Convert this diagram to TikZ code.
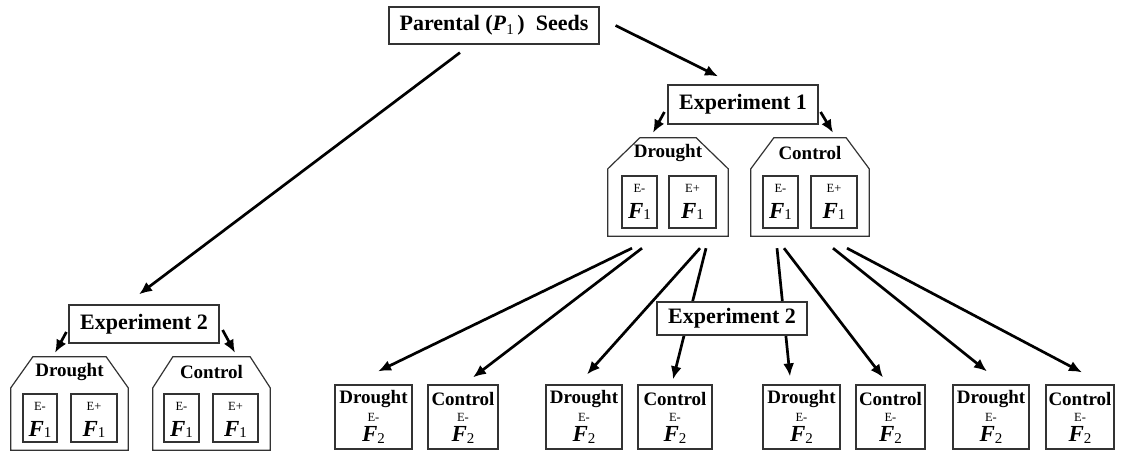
\documentclass[tikz,border=0pt]{standalone}
\usepackage{fontspec}
\setmainfont{Liberation Serif}
\usetikzlibrary{arrows.meta,positioning,calc}

\newcommand{\subsc}[1]{\raisebox{-0.35ex}{\fontsize{15}{15}\selectfont\mdseries\upshape #1}}
\newcommand{\gen}[1]{{\fontsize{23}{23}\selectfont\bfseries\itshape F}\subsc{#1}}

\tikzset{
  box/.style={draw=black!80, line width=1.2pt, inner sep=0pt, fill=white},
  exbox/.style={box, font=\fontsize{22}{22}\selectfont\bfseries, minimum width=150pt},
  grp/.style={inner sep=0pt},
  grplabel/.style={font=\fontsize{19}{19}\selectfont\bfseries, inner sep=0pt},
  small/.style={font=\fontsize{12.5}{12.5}\selectfont, inner sep=0pt},
  genbox/.style={box},
  arr/.style={-{Latex[length=13pt,width=11pt]}, line width=2.7pt},
}

% outer group with cut top corners: name, centre, width, height, chamfer, label
\newcommand{\group}[6]{%
  \node[grp, minimum width=#3pt, minimum height=#4pt] (#1) at (#2) {};
  \draw[box, fill=none] (#1.south west) -- ($(#1.north west)+(0,31)$)
    -- ($(#1.north west)+(#5,0)$) -- ($(#1.north east)+(-#5,0)$)
    -- ($(#1.north east)+(0,31)$) -- (#1.south east) -- cycle;
  \node[grplabel] (#1-lab) at ([yshift=-15pt]#1.north) {#6};
}
% F1 cell: name, centre, width, height, sign
\newcommand{\fcell}[5]{%
  \node[genbox, minimum width=#3pt, minimum height=#4pt] (#1) at (#2) {};
  \node[small] (#1-e) at ([yshift=-13pt]#1.north) {E#5};
  \node[inner sep=0pt] (#1-f) at ([yshift=-36pt]#1.north) {\gen{1}};
}
% F2 cell: name, centre, width, treatment
\newcommand{\fftwo}[4]{%
  \node[genbox, minimum width=#3pt, minimum height=64pt] (#1) at (#2) {};
  \node[grplabel] (#1-lab) at ([yshift=18pt]#1.center) {#4};
  \node[small] (#1-e) at (#1.center) {E-};
  \node[inner sep=0pt] (#1-f) at ([yshift=-18pt]#1.center) {\gen{2}};
}

\begin{document}
\begin{tikzpicture}[x=1pt, y=-1pt]
  \useasboundingbox (0,0) rectangle (1122,452);

  \node[box, font=\fontsize{22}{22}\selectfont\bfseries, minimum width=210pt, minimum height=37pt]
    (par) at (494,25.5) {Parental (\textit{P}\subsc{1}\,)~ Seeds};

  % experiment 1
  \node[exbox, minimum height=39pt] (ex1) at (743,104.5) {Experiment 1};
  \group{d1}{668,187}{120}{98}{32}{Drought}
  \group{c1}{810,187}{118}{98}{23}{Control}
  \fcell{d1m}{639.5,202}{35}{52}{-}
  \fcell{d1p}{692.5,202}{47}{52}{+}
  \fcell{c1m}{780.5,202}{35}{52}{-}
  \fcell{c1p}{834,202}{46}{52}{+}

  % experiment 2, left
  \node[exbox, minimum height=38pt] (ex2a) at (144,324) {Experiment 2};
  \group{d2}{69.5,403.5}{117}{93}{22}{Drought}
  \group{c2}{211.5,403.5}{117}{93}{20}{Control}
  \fcell{d2m}{40,418}{34}{48}{-}
  \fcell{d2p}{94,418}{46}{48}{+}
  \fcell{c2m}{181.5,418}{35}{48}{-}
  \fcell{c2p}{235.5,418}{45}{48}{+}

  % F2 boxes
  \fftwo{f1}{373.5,417}{77}{Drought}
  \fftwo{f2}{463,417}{70}{Control}
  \fftwo{f3}{584,417}{76}{Drought}
  \fftwo{f4}{675,417}{74}{Control}
  \fftwo{f5}{801.5,417}{77}{Drought}
  \fftwo{f6}{890.5,417}{69}{Control}
  \fftwo{f7}{991,417}{76}{Drought}
  \fftwo{f8}{1080,417}{68}{Control}

  % arrows
  \draw[arr] ([xshift=16pt]par.east) -- ([xshift=-25pt,yshift=8pt]ex1.north);
  \draw[arr] ([xshift=-34pt,yshift=-8pt]par.south) -- ([xshift=-5pt,yshift=10pt]ex2a.north);
  \draw[arr] ([xshift=-3pt,yshift=-7.5pt]ex1.west) -- ([xshift=-15pt,yshift=5pt]d1.north);
  \draw[arr] ([xshift=2pt,yshift=-7.5pt]ex1.east) -- ([xshift=23pt,yshift=5pt]c1.north);
  \draw[arr] ([xshift=-2pt,yshift=-8pt]ex2a.west) -- ([xshift=-14.5pt,yshift=4pt]d2.north);
  \draw[arr] ([xshift=3pt,yshift=-6pt]ex2a.east) -- ([xshift=23.5pt,yshift=4pt]c2.north);
  \foreach \s/\dx/\t/\ex/\ey in {d1/-36/f1/4.5/13, d1/-26/f2/10/7, d1/32/f3/3/10, d1/38/f4/-2/5,
      c1/-33/f5/-11.5/8, c1/-26/f6/-7.5/7, c1/23/f7/-4/13, c1/37/f8/2/12}
    \draw[arr] ([xshift=\dx pt,yshift=-12pt]\s.south) -- ([xshift=\ex pt,yshift=\ey pt]\t.north);

  % experiment 2, centre (covers the arrows behind it)
  \node[exbox, minimum height=33pt] (ex2b) at (732,318.5) {Experiment 2};
\end{tikzpicture}
\end{document}
